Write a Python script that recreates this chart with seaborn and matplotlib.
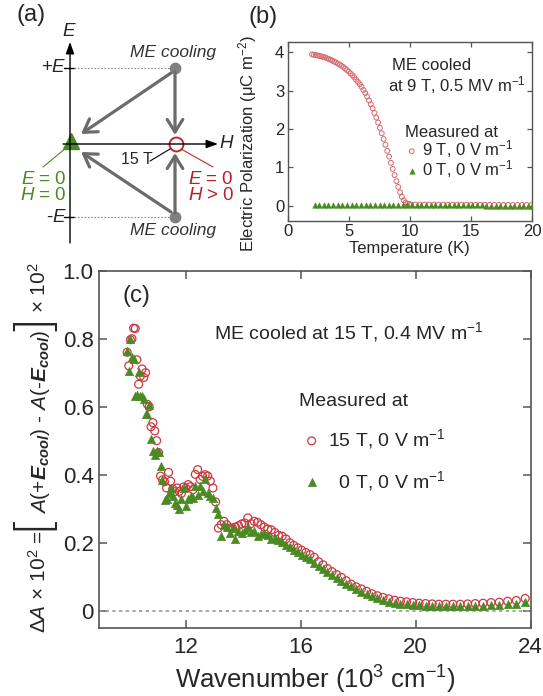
import numpy as np
import pandas as pd
import matplotlib
matplotlib.use("Agg")
import matplotlib.pyplot as plt
import seaborn as sns

# ---------------- data: panel (b) ----------------
temp_9T = [2.00, 2.15, 2.30, 2.45, 2.60, 2.75, 2.90, 3.05, 3.20, 3.35,
           3.50, 3.65, 3.80, 3.95, 4.10, 4.25, 4.40, 4.55, 4.70, 4.85,
           5.00, 5.15, 5.30, 5.45, 5.60, 5.75, 5.90, 6.05, 6.20, 6.35,
           6.50, 6.65, 6.80, 6.95, 7.10, 7.25, 7.40, 7.55, 7.70, 7.85,
           8.00, 8.15, 8.30, 8.45, 8.60, 8.75, 8.90, 9.05, 9.20, 9.35,
           9.50, 9.65, 9.80, 9.95, 10.10, 10.45, 10.83, 11.21, 11.59, 11.97,
           12.35, 12.73, 13.11, 13.49, 13.87, 14.25, 14.63, 15.01, 15.39, 15.77,
           16.15, 16.53, 16.91, 17.29, 17.67, 18.05, 18.43, 18.81, 19.19, 19.57,
           19.95]
pol_9T = [3.95, 3.94, 3.93, 3.92, 3.91, 3.90, 3.88, 3.87, 3.85, 3.83,
          3.81, 3.79, 3.76, 3.74, 3.71, 3.68, 3.65, 3.62, 3.58, 3.54,
          3.50, 3.45, 3.40, 3.35, 3.29, 3.23, 3.17, 3.10, 3.02, 2.94,
          2.85, 2.75, 2.65, 2.54, 2.42, 2.30, 2.17, 2.03, 1.89, 1.74,
          1.59, 1.43, 1.28, 1.12, 0.96, 0.80, 0.64, 0.49, 0.35, 0.23,
          0.14, 0.08, 0.05, 0.04, 0.035, 0.030, 0.030, 0.030, 0.028, 0.028,
          0.027, 0.027, 0.026, 0.026, 0.025, 0.025, 0.024, 0.024, 0.023, 0.023,
          0.022, 0.022, 0.021, 0.021, 0.020, 0.020, 0.019, 0.019, 0.018, 0.018,
          0.017]
temp_0T = [2.20, 2.58, 2.96, 3.34, 3.72, 4.10, 4.48, 4.86, 5.24, 5.62,
           6.00, 6.38, 6.76, 7.14, 7.52, 7.90, 8.28, 8.66, 9.04, 9.42,
           9.80, 10.18, 10.56, 10.94, 11.32, 11.70, 12.08, 12.46, 12.84, 13.22,
           13.60, 13.98, 14.36, 14.74, 15.12, 15.50, 15.88, 16.26, 16.64, 17.02,
           17.40, 17.78, 18.16, 18.54, 18.92, 19.30, 19.68, 19.98]
pol_0T = [0.03, 0.02, 0.02, 0.02, 0.02, 0.02, 0.02, 0.02, 0.02, 0.02,
          0.02, 0.02, 0.02, 0.02, 0.02, 0.02, 0.02, 0.02, 0.01, 0.01,
          0.01, 0.01, 0.01, 0.01, 0.01, 0.01, 0.01, 0.01, 0.01, 0.01,
          0.01, 0.01, 0.01, 0.01, 0.01, 0.01, 0.01, 0.00, 0.00, 0.00,
          0.00, 0.00, 0.00, 0.00, 0.00, 0.00, 0.00, 0.00]

# ---------------- data: panel (c) ----------------
wavenumber = [9.970, 10.025, 10.081, 10.137, 10.194, 10.251, 10.309, 10.368, 10.428, 10.488,
              10.549, 10.610, 10.672, 10.735, 10.799, 10.864, 10.929, 10.995, 11.062, 11.130,
              11.198, 11.268, 11.338, 11.409, 11.481, 11.554, 11.628, 11.703, 11.779, 11.855,
              11.933, 12.012, 12.092, 12.173, 12.255, 12.338, 12.422, 12.508, 12.594, 12.682,
              12.771, 12.862, 12.953, 13.046, 13.141, 13.236, 13.333, 13.432, 13.532, 13.633,
              13.736, 13.841, 13.947, 14.055, 14.164, 14.276, 14.388, 14.503, 14.620, 14.738,
              14.859, 14.981, 15.106, 15.232, 15.361, 15.492, 15.625, 15.760, 15.898, 16.038,
              16.181, 16.327, 16.474, 16.625, 16.779, 16.935, 17.094, 17.256, 17.422, 17.590,
              17.762, 17.937, 18.116, 18.298, 18.484, 18.674, 18.868, 19.066, 19.268, 19.474,
              19.685, 19.900, 20.121, 20.346, 20.576, 20.812, 21.053, 21.299, 21.552, 21.810,
              22.075, 22.346, 22.624, 22.910, 23.202, 23.502, 23.810]
dA_15T = [0.760, 0.720, 0.797, 0.800, 0.831, 0.830, 0.738, 0.666, 0.690, 0.711,
          0.686, 0.700, 0.607, 0.600, 0.541, 0.553, 0.529, 0.500, 0.465, 0.396,
          0.385, 0.379, 0.361, 0.407, 0.381, 0.358, 0.350, 0.361, 0.351, 0.345,
          0.364, 0.360, 0.371, 0.365, 0.356, 0.401, 0.415, 0.386, 0.395, 0.400,
          0.396, 0.381, 0.361, 0.320, 0.243, 0.253, 0.263, 0.253, 0.243, 0.243,
          0.246, 0.250, 0.255, 0.258, 0.273, 0.256, 0.263, 0.260, 0.253, 0.246,
          0.240, 0.238, 0.230, 0.222, 0.219, 0.211, 0.200, 0.192, 0.185, 0.178,
          0.171, 0.165, 0.157, 0.144, 0.135, 0.124, 0.115, 0.106, 0.098, 0.088,
          0.078, 0.070, 0.064, 0.057, 0.050, 0.044, 0.039, 0.035, 0.031, 0.028,
          0.026, 0.024, 0.022, 0.021, 0.020, 0.019, 0.019, 0.019, 0.019, 0.020,
          0.021, 0.022, 0.024, 0.025, 0.028, 0.030, 0.036]
dA_0T = [0.765, 0.706, 0.800, 0.745, 0.740, 0.632, 0.635, 0.703, 0.632, 0.632,
         0.622, 0.580, 0.580, 0.604, 0.504, 0.470, 0.457, 0.471, 0.467, 0.425,
         0.383, 0.325, 0.329, 0.345, 0.361, 0.337, 0.317, 0.310, 0.300, 0.330,
         0.361, 0.307, 0.330, 0.337, 0.332, 0.366, 0.340, 0.368, 0.351, 0.388,
         0.347, 0.337, 0.332, 0.302, 0.283, 0.220, 0.253, 0.245, 0.228, 0.243,
         0.212, 0.233, 0.228, 0.236, 0.246, 0.232, 0.233, 0.220, 0.226, 0.229,
         0.223, 0.212, 0.215, 0.207, 0.201, 0.193, 0.187, 0.179, 0.172, 0.165,
         0.158, 0.151, 0.141, 0.131, 0.122, 0.113, 0.104, 0.095, 0.087, 0.080,
         0.072, 0.064, 0.056, 0.048, 0.042, 0.036, 0.031, 0.027, 0.024, 0.021,
         0.019, 0.018, 0.016, 0.015, 0.014, 0.013, 0.013, 0.013, 0.013, 0.014,
         0.014, 0.015, 0.016, 0.017, 0.019, 0.021, 0.025]

b_xticks = [0, 5, 10, 15, 20]
b_yticks = [0, 1, 2, 3, 4]
c_xticks = [12, 16, 20, 24]
c_yticks = [0, 0.2, 0.4, 0.6, 0.8, 1.0]
c_yticklabels = ["0", "0.2", "0.4", "0.6", "0.8", "1.0"]

# ---------------- style ----------------
sns.set_theme(style="ticks")
plt.rcParams["font.family"] = ["Liberation Sans", "DejaVu Sans"]
plt.rcParams["mathtext.fontset"] = "custom"
plt.rcParams["mathtext.rm"] = "Liberation Sans"
plt.rcParams["mathtext.it"] = "Liberation Sans:italic"
plt.rcParams["mathtext.bf"] = "Liberation Sans:bold"
try:
    plt.rcParams["mathtext.bfit"] = "Liberation Sans:bold:italic"
except KeyError:
    pass

RED = "#cc3a40"
RED_B = "#d8686c"
GREEN = "#4a8a22"
SPINE = "#555555"

W, H = 543, 696
fig = plt.figure(figsize=(W / 100, H / 100), dpi=100)


def fx(x):
    return x / W


def fy(y):
    return 1 - y / H


# ---------------- panel (a): schematic ----------------
ax_a = fig.add_axes([0, 1 - 250 / H, 240 / W, 250 / H])
ax_a.set_xlim(0, 240)
ax_a.set_ylim(250, 0)
ax_a.axis("off")


def arrow(ax, start, end, **kw):
    ax.annotate("", xy=end, xytext=start, arrowprops=kw)


axis_kw = dict(arrowstyle="-|>,head_length=0.7,head_width=0.25", color="black",
               lw=1.0, mutation_scale=10, shrinkA=0, shrinkB=0)
arrow(ax_a, (70, 243), (70, 42), **axis_kw)
arrow(ax_a, (63, 144), (218, 144), **axis_kw)

ax_a.plot([64, 74], [68, 68], color="black", lw=1.0)
ax_a.plot([64, 74], [217, 217], color="black", lw=1.0)
ax_a.plot([74, 170], [68, 68], color="#8a8a8a", lw=0.8, ls=(0, (1.5, 1.5)))
ax_a.plot([74, 170], [217, 217], color="#8a8a8a", lw=0.8, ls=(0, (1.5, 1.5)))

gray_kw = dict(arrowstyle="->,head_length=0.45,head_width=0.28", color="#6b6b6b",
               lw=2.3, mutation_scale=20, shrinkA=0, shrinkB=0)
arrow(ax_a, (175, 72), (175, 135), **gray_kw)
arrow(ax_a, (175, 213), (175, 153), **gray_kw)
arrow(ax_a, (171, 73), (81, 134), **gray_kw)
arrow(ax_a, (171, 212), (81, 152), **gray_kw)

ax_a.plot([175], [68], "o", ms=7.5, color="#808080")
ax_a.plot([175], [217], "o", ms=7.5, color="#808080")
ax_a.plot([175.5], [143.5], "o", ms=10, mfc="none", mec="#c0282d", mew=1.4)
ax_a.plot([71], [141], "^", ms=11, color=GREEN)

ax_a.plot([150, 170], [161, 149], color="black", lw=0.8)
ax_a.plot([66, 43], [148, 167], color=GREEN, lw=0.8)
ax_a.plot([181, 213], [149, 167], color="#c0282d", lw=0.8)

ax_a.text(31.5, 15, "(a)", fontsize=17, ha="center", va="center")
ax_a.text(69, 32, "$E$", fontsize=13.5, ha="center", va="center")
ax_a.text(227, 144, "$H$", fontsize=13.5, ha="center", va="center")
ax_a.text(67, 68, "+$E$", fontsize=13.5, ha="right", va="center")
ax_a.text(67, 217, "-$E$", fontsize=13.5, ha="right", va="center")
ax_a.text(173, 53, "ME cooling", fontsize=12.5, style="italic", ha="center", va="center", color="#333333")
ax_a.text(173, 231, "ME cooling", fontsize=12.5, style="italic", ha="center", va="center", color="#333333")
ax_a.text(137, 160, "15 T", fontsize=11.5, ha="center", va="center")
ax_a.text(43.5, 179, "$E$ = 0", fontsize=13.5, ha="center", va="center", color=GREEN)
ax_a.text(43.5, 195, "$H$ = 0", fontsize=13.5, ha="center", va="center", color=GREEN)
ax_a.text(211, 179, "$E$ = 0", fontsize=13.5, ha="center", va="center", color="#b8202a")
ax_a.text(211, 195, "$H$ > 0", fontsize=13.5, ha="center", va="center", color="#b8202a")

# ---------------- panel (b) ----------------
ax_b = fig.add_axes([287.7 / W, 1 - 221 / H, (532 - 287.7) / W, (221 - 41.7) / H])
df_b9 = pd.DataFrame({"T": temp_9T, "P": pol_9T})
df_b0 = pd.DataFrame({"T": temp_0T, "P": pol_0T})
sns.scatterplot(data=df_b9, x="T", y="P", ax=ax_b, marker="o", s=12,
                color=RED_B, facecolor="none", edgecolor=RED_B, linewidth=0.7,
                label="9 T, 0 V m$^{-1}$", zorder=3)
sns.scatterplot(data=df_b0, x="T", y="P", ax=ax_b, marker="^", s=16,
                color=GREEN, edgecolor=GREEN, linewidth=0.3,
                label="0 T, 0 V m$^{-1}$", zorder=4)
ax_b.set_xlim(0, 20)
ax_b.set_ylim(-0.4, 4.28)
ax_b.set_xticks(b_xticks)
ax_b.set_yticks(b_yticks)
ax_b.tick_params(direction="in", top=True, right=True, length=3.5, width=0.9,
                 color=SPINE, labelsize=12, pad=2.5)
for sp in ax_b.spines.values():
    sp.set_color(SPINE)
    sp.set_linewidth(1.0)
ax_b.set_xlabel("Temperature (K)", fontsize=12, labelpad=1)
ax_b.set_ylabel("Electric Polarization (\u03bcC m$^{-2}$)", fontsize=12)
ax_b.yaxis.set_label_coords(-0.117, 0.43)
ax_b.legend(title="Measured at", loc="upper left",
            bbox_to_anchor=(fx(405), fy(125)), bbox_transform=fig.transFigure,
            frameon=False, fontsize=12, title_fontsize=12, borderpad=0,
            borderaxespad=0, handlelength=0.8, handletextpad=0.25,
            labelspacing=-0.1, alignment="left")
fig.text(fx(391.5), fy(66), "ME cooled", fontsize=12, ha="left", va="center")
fig.text(fx(388.5), fy(85), "at 9 T, 0.5 MV m$^{-1}$", fontsize=12, ha="left", va="center")
fig.text(fx(263), fy(17), "(b)", fontsize=17, ha="center", va="center")

# ---------------- panel (c) ----------------
ax_c = fig.add_axes([99.3 / W, 1 - 627.7 / H, (530.6 - 99.3) / W, (627.7 - 270.7) / H])
df_c = pd.DataFrame({"w": wavenumber, "r": dA_15T, "g": dA_0T})
ax_c.axhline(0, color="#9a9a9a", lw=1.2, ls=(0, (2, 2)), zorder=1)
sns.scatterplot(data=df_c, x="w", y="r", ax=ax_c, marker="o", s=32,
                color=RED, facecolor="none", edgecolor=RED, linewidth=0.9,
                label="15 T, 0 V m$^{-1}$", zorder=3)
sns.scatterplot(data=df_c, x="w", y="g", ax=ax_c, marker="^", s=38,
                color=GREEN, edgecolor=GREEN, linewidth=0.3,
                label="  0 T, 0 V m$^{-1}$", zorder=4)
ax_c.set_xlim(9, 24)
ax_c.set_ylim(-0.05, 1.0)
ax_c.set_xticks(c_xticks)
ax_c.set_yticks(c_yticks)
ax_c.set_yticklabels(c_yticklabels)
ax_c.tick_params(direction="in", top=True, right=True, length=5.5, width=1.1,
                 color=SPINE, labelsize=16)
ax_c.tick_params(axis="x", pad=7)
ax_c.tick_params(axis="y", pad=4)
for sp in ax_c.spines.values():
    sp.set_color(SPINE)
    sp.set_linewidth(1.2)
ax_c.set_xlabel("Wavenumber (10$^{3}$ cm$^{-1}$)", fontsize=18.5, labelpad=4)
ax_c.set_ylabel("")
ax_c.legend(title="Measured at", loc="upper left",
            bbox_to_anchor=(fx(299), fy(393)), bbox_transform=fig.transFigure,
            frameon=False, fontsize=14, title_fontsize=14, borderpad=0,
            borderaxespad=0, handlelength=1.3, handletextpad=0.2,
            labelspacing=0.9, alignment="left")
fig.text(fx(214.5), fy(332), "ME cooled at 15 T, 0.4 MV m$^{-1}$", fontsize=14,
         ha="left", va="center")
fig.text(fx(136.5), fy(296), "(c)", fontsize=17, ha="center", va="center")

# y label of (c), built from pieces so that the brackets can be large
renderer = fig.canvas.get_renderer()
label_pieces = [
    ("\u0394$A$ \u00d7 10$^{2}$ =", 15, None, 0.0),
    ("[", 36, 200, -3.0),
    ("$A$(+$\\mathbfit{E}_{\\mathbfit{cool}}$) - $A$(-$\\mathbfit{E}_{\\mathbfit{cool}}$)", 15, None, -2.0),
    ("]", 36, 200, -1.0),
    ("\u00d7 10$^{2}$", 15, None, 0.0),
]
y_cur = 633.0
base_x = 45.5
for txt, size, weight, gap in label_pieces:
    kw = dict(rotation=90, rotation_mode="anchor", ha="left", va="baseline",
              fontsize=size)
    bx = base_x
    if weight is not None:
        kw["fontweight"] = weight
        kw["family"] = ["DejaVu Sans"]
        bx = 33 + 0.26 * size * 100 / 72
    t = fig.text(fx(bx), fy(y_cur), txt, **kw)
    ext = t.get_window_extent(renderer)
    y_cur -= ext.height + gap

fig.savefig("out.png", dpi=100)
